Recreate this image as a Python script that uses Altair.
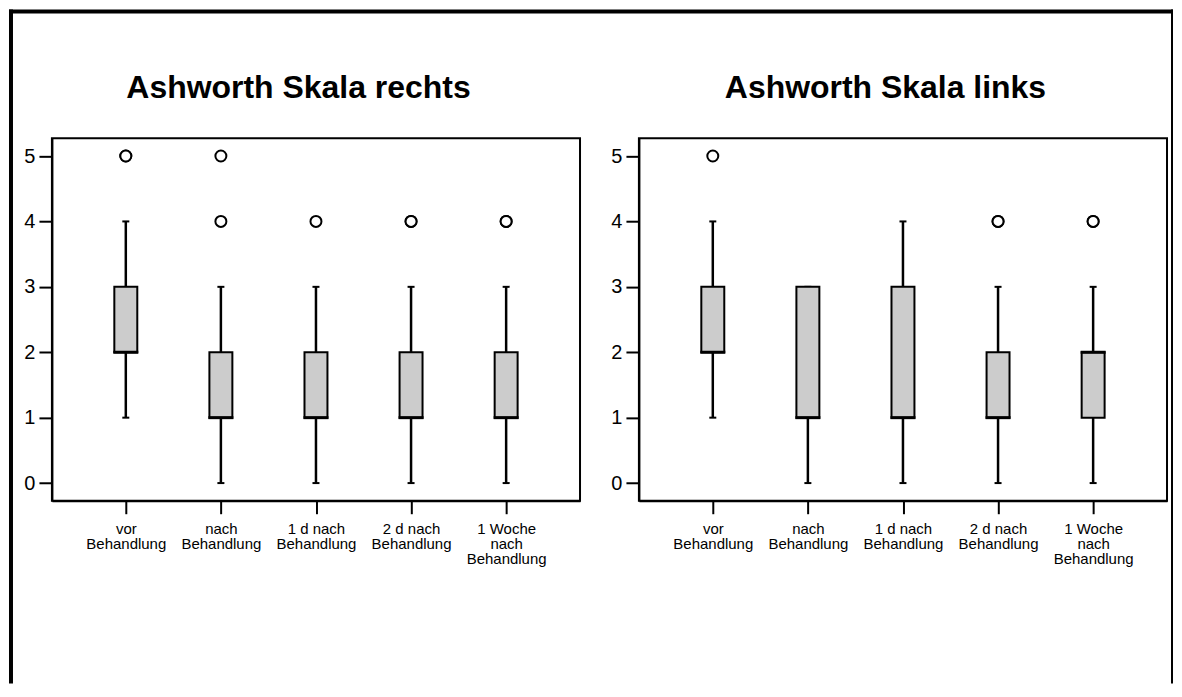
import altair as alt
import pandas as pd

categories = ["vor Behandlung", "nach Behandlung", "1 d nach Behandlung",
              "2 d nach Behandlung", "1 Woche nach Behandlung"]
titles = ["Ashworth Skala rechts", "Ashworth Skala links"]
y_ticks = [0, 1, 2, 3, 4, 5]

# Ashworth Skala rechts
r_low = [1, 0, 0, 0, 0]
r_q1 = [2, 1, 1, 1, 1]
r_med = [2, 1, 1, 1, 1]
r_q3 = [3, 2, 2, 2, 2]
r_high = [4, 3, 3, 3, 3]
r_out_cat = ["vor Behandlung", "vor Behandlung", "nach Behandlung", "nach Behandlung",
             "1 d nach Behandlung", "2 d nach Behandlung", "2 d nach Behandlung",
             "1 Woche nach Behandlung", "1 Woche nach Behandlung"]
r_out_val = [5, 5, 5, 4, 4, 4, 4, 4, 4]

# Ashworth Skala links
l_low = [1, 0, 0, 0, 0]
l_q1 = [2, 1, 1, 1, 1]
l_med = [2, 1, 1, 1, 2]
l_q3 = [3, 3, 3, 2, 2]
l_high = [4, 3, 4, 3, 3]
l_out_cat = ["vor Behandlung", "2 d nach Behandlung", "2 d nach Behandlung",
             "1 Woche nach Behandlung", "1 Woche nach Behandlung"]
l_out_val = [5, 4, 4, 4, 4]

FONT = "Liberation Sans"
PW, PH = 529, 363

label_expr = ("datum.label == '1 Woche nach Behandlung' ? ['1 Woche', 'nach', 'Behandlung'] : "
              "[replace(datum.label, ' Behandlung', ''), 'Behandlung']")


def xenc():
    return alt.X("cat:N", sort=categories, title=None,
                 scale=alt.Scale(type="point", padding=0.777),
                 axis=alt.Axis(labelAngle=0, tickSize=13, labelFontSize=15,
                               labelLineHeight=15, labelPadding=8, labelExpr=label_expr,
                               labelOverlap=False, labelLimit=300))


def yenc(field):
    return alt.Y(field, title=None,
                 scale=alt.Scale(domain=[-0.27, 5.27], nice=False, zero=False),
                 axis=alt.Axis(values=y_ticks, format="d", tickSize=13, labelFontSize=20,
                               labelPadding=4))


def panel(title, low, q1, med, q3, high, out_cat, out_val, frame=False):
    df = pd.DataFrame({"cat": categories, "low": low, "q1": q1, "med": med,
                       "q3": q3, "high": high})
    odf = pd.DataFrame({"cat": out_cat, "val": out_val})
    base = alt.Chart(df)
    whisk = base.mark_rule(color="black", strokeWidth=2.5).encode(
        x=xenc(), y=yenc("low:Q"), y2="high:Q")
    cap_lo = base.mark_tick(color="black", size=7, thickness=2, opacity=1).encode(
        x=xenc(), y=yenc("low:Q"))
    cap_hi = base.mark_tick(color="black", size=7, thickness=2, opacity=1).encode(
        x=xenc(), y=yenc("high:Q"))
    box = base.mark_bar(size=23, fill="#cccccc", stroke="black", strokeWidth=2,
                        opacity=1).encode(x=xenc(), y=yenc("q1:Q"), y2="q3:Q")
    median = base.mark_tick(color="black", size=25, thickness=3, opacity=1).encode(
        x=xenc(), y=yenc("med:Q"))
    outl = alt.Chart(odf).mark_point(shape="circle", size=121, filled=True, fill="white",
                                     stroke="black", strokeWidth=2, opacity=1).encode(
        x=xenc(), y=yenc("val:Q"))
    ttl = alt.Chart(pd.DataFrame({"t": [title]})).mark_text(
        font=FONT, fontSize=32, fontWeight="bold", align="center",
        baseline="alphabetic", color="black").encode(
        text="t:N", x=alt.value(247), y=alt.value(-40))
    layers = [whisk, cap_lo, cap_hi, box, median, outl, ttl]
    if frame:
        one = alt.Chart(pd.DataFrame({"a": [0]}))
        fl = dict(color="black", opacity=1, strokeWidth=0)
        left = one.mark_rect(**fl).encode(x=alt.value(-43), x2=alt.value(-39),
                                          y=alt.value(-129), y2=alt.value(546))
        top = one.mark_rect(**fl).encode(x=alt.value(-43), x2=alt.value(1123),
                                         y=alt.value(-129), y2=alt.value(-125))
        right = one.mark_rect(**fl).encode(x=alt.value(1121), x2=alt.value(1123),
                                           y=alt.value(-129), y2=alt.value(546))
        layers = [left, top, right] + layers
    return alt.layer(*layers).properties(width=PW, height=PH)


p1 = panel(titles[0], r_low, r_q1, r_med, r_q3, r_high, r_out_cat, r_out_val, frame=True)
p2 = panel(titles[1], l_low, l_q1, l_med, l_q3, l_high, l_out_cat, l_out_val)

chart = alt.hconcat(p1, p2, spacing=59, bounds="flush").properties(
    padding=0, background="white"
).configure_view(stroke="black", strokeWidth=2).configure_axis(
    domainColor="black", domainWidth=2, tickColor="black", tickWidth=2,
    labelColor="black", labelFont=FONT, grid=False
)

chart.save("out.html", embed_options={"renderer": "svg", "actions": False})
